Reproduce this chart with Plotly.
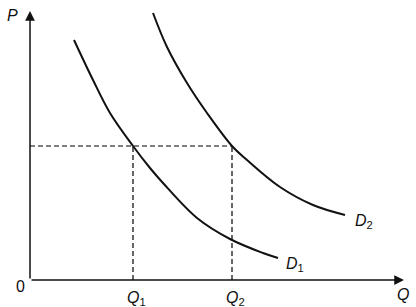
import plotly.graph_objects as go

# Demand curve readings (quantity, price) in chart units; origin at axis corner
d1_q = [44, 63, 80, 103, 120, 133, 167, 200, 233, 248]
d1_p = [240, 200, 167, 134, 112, 97, 62, 41, 27, 22]
d2_q = [123, 137, 157, 177, 202, 217, 250, 283, 315]
d2_p = [267, 233, 197, 167, 134, 120, 93, 75, 65]

q_marks = [103, 202]
q_labels = ["<i>Q</i><sub>1</sub>", "<i>Q</i><sub>2</sub>"]
p_level = 134
curve_labels = ["<i>D</i><sub>1</sub>", "<i>D</i><sub>2</sub>"]

FONT = "Liberation Sans"
fig = go.Figure()

# dashed guide lines
fig.add_trace(go.Scatter(x=[0, q_marks[1]], y=[p_level, p_level], mode="lines",
                         line=dict(color="#000", width=1.2, dash="5px,3px"), hoverinfo="skip"))
for q in q_marks:
    fig.add_trace(go.Scatter(x=[q, q], y=[0, p_level], mode="lines",
                             line=dict(color="#000", width=1.2, dash="5px,3px"), hoverinfo="skip"))

fig.add_trace(go.Scatter(x=d1_q, y=d1_p, mode="lines", line=dict(color="#111", width=2, shape="spline"),
                         hoverinfo="skip"))
fig.add_trace(go.Scatter(x=d2_q, y=d2_p, mode="lines", line=dict(color="#111", width=2, shape="spline"),
                         hoverinfo="skip"))

ann = []
# axes with arrows
ann.append(dict(x=0, y=269, ax=0, ay=0, xref="x", yref="y", axref="x", ayref="y",
                showarrow=True, arrowhead=2, arrowsize=1.3, arrowwidth=1.5, arrowcolor="#111", text=""))
ann.append(dict(x=374, y=0, ax=0, ay=0, xref="x", yref="y", axref="x", ayref="y",
                showarrow=True, arrowhead=2, arrowsize=1.3, arrowwidth=1.5, arrowcolor="#111", text=""))

def label(x, y, t, size=16):
    ann.append(dict(x=x, y=y, xref="x", yref="y", text=t, showarrow=False,
                    font=dict(family=FONT, size=size, color="#111")))

label(-18, 265, "<i>P</i>")
label(373, -14, "<i>Q</i>")
label(-10, -6, "0")
for q, t in zip(q_marks, q_labels):
    label(q + 3, -18, t)
label(265, 16, curve_labels[0])
label(334, 59, curve_labels[1])

fig.update_layout(
    width=416, height=307, autosize=False,
    margin=dict(l=0, r=0, t=0, b=0),
    paper_bgcolor="white", plot_bgcolor="white",
    showlegend=False, annotations=ann,
    xaxis=dict(range=[-30, 386], visible=False, fixedrange=True),
    yaxis=dict(range=[-27, 280], visible=False, fixedrange=True),
)
fig.write_html("out.html")
